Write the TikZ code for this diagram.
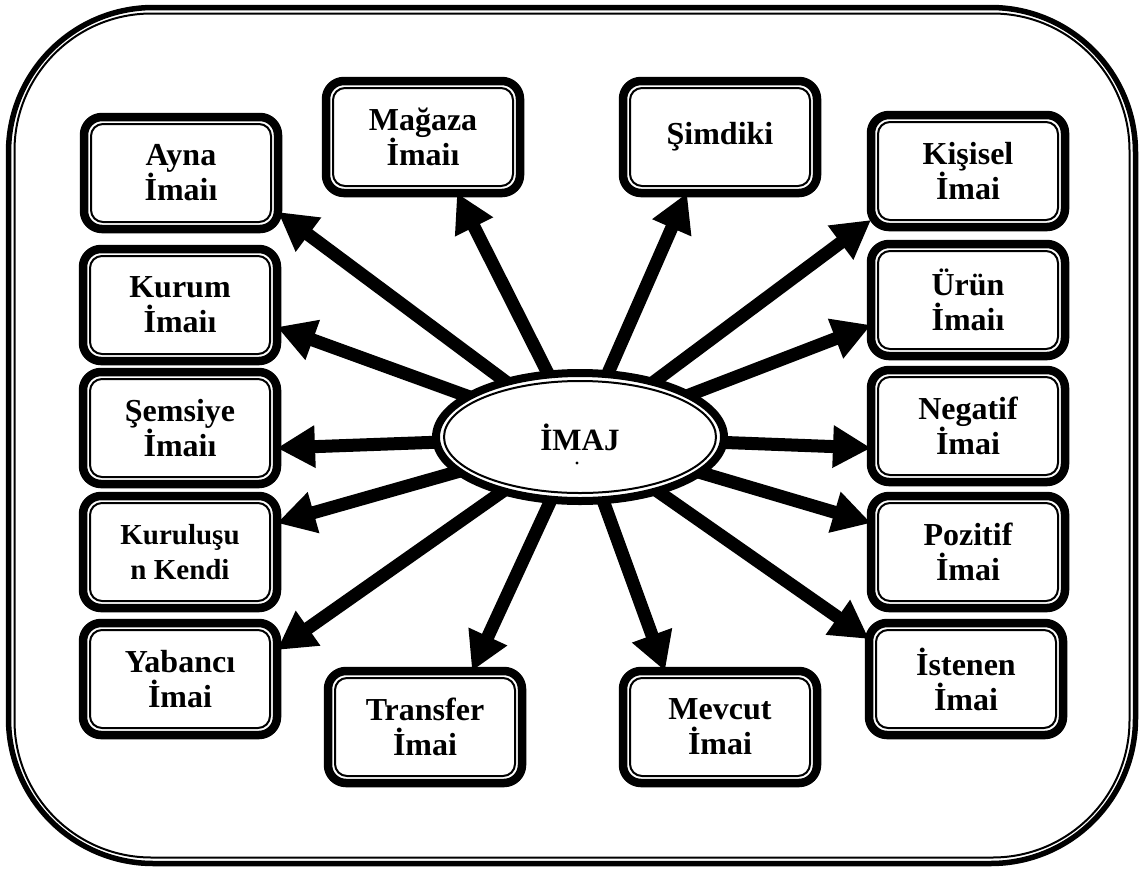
\documentclass[tikz,border=0pt]{standalone}
\usepackage{fontspec}
\setmainfont{Liberation Serif}
\usetikzlibrary{arrows.meta,backgrounds,shapes.geometric}
\newcommand\imgbox[4]{%
  \node[ibox] (#1) at (#2,#3) {#4};
  \draw[innerline] ([xshift=7pt,yshift=-7pt]#1.north west) rectangle ([xshift=-7pt,yshift=7pt]#1.south east);}
\begin{document}
\begin{tikzpicture}[x=1pt,y=-1pt,
  ibox/.style={draw, line width=8.5pt, rounded corners=18pt, fill=white,
    minimum width=194pt, minimum height=112pt, inner sep=0pt, outer sep=0pt,
    align=center, font=\bfseries\fontsize{32}{35}\selectfont},
  innerline/.style={line width=2pt, rounded corners=12pt},
  arr/.style={line width=13pt, -{Triangle[length=38pt,width=40pt]}},
  framestyle/.style={line width=5.5pt, rounded corners=145pt},
  frameinner/.style={line width=2pt, rounded corners=137pt}
]
\useasboundingbox (0,0) rectangle (1144,871);
% outer frame
\draw[framestyle] (8.5,7.5) rectangle (1135.5,863.5);
\draw[frameinner] (14.5,13.5) rectangle (1129.5,857.5);
% centre ellipse
\node[ellipse, draw, line width=8pt, fill=white, minimum width=288pt, minimum height=128pt,
  inner sep=0pt, outer sep=0pt, font=\bfseries\fontsize{31}{34}\selectfont] (e) at (580,437) {İMAJ};
\draw[line width=2pt] (e.center) ellipse [x radius=136pt, y radius=56pt];
\fill (577,463) circle (1.7pt);
% boxes
\imgbox{ayna}{181}{173}{Ayna\\İmaiı}
\imgbox{kurum}{180}{305}{Kurum\\İmaiı}
\imgbox{semsiye}{180}{428}{Şemsiye\\İmaiı}
\imgbox{kurulusu}{180}{552}{\fontsize{29}{35}\selectfont Kuruluşu\\\fontsize{29}{35}\selectfont n Kendi}
\imgbox{yabanci}{180}{679}{Yabancı\\İmai}
\imgbox{magaza}{423}{137}{Mağaza\\İmaiı}
\imgbox{simdiki}{720}{137}{Şimdiki}
\imgbox{kisisel}{968}{171}{Kişisel\\İmai}
\imgbox{urun}{968}{300}{Ürün\\İmaiı}
\imgbox{negatif}{968}{426}{Negatif\\İmai}
\imgbox{pozitif}{968}{552}{Pozitif\\İmai}
\imgbox{istenen}{966}{679}{İstenen\\İmai}
\imgbox{transfer}{425}{727}{Transfer\\İmai}
\imgbox{mevcut}{720}{727}{Mevcut\\İmai}
% connectors
\begin{pgfonlayer}{background}
\draw[arr] (e.center) -- ([yshift=-39pt]ayna.east);
\draw[arr] (e.center) -- ([yshift=-22pt]kurum.east);
\draw[arr] (e.center) -- ([yshift=-20pt]semsiye.east);
\draw[arr] (e.center) -- ([yshift=29pt]kurulusu.east);
\draw[arr] (e.center) -- ([yshift=29pt]yabanci.east);
\draw[arr] (e.center) -- ([xshift=34pt]magaza.south);
\draw[arr] (e.center) -- ([xshift=-33pt]simdiki.south);
\draw[arr] (e.center) -- ([yshift=-49pt]kisisel.west);
\draw[arr] (e.center) -- ([yshift=-25pt]urun.west);
\draw[arr] (e.center) -- ([yshift=-22pt]negatif.west);
\draw[arr] (e.center) -- ([yshift=29pt]pozitif.west);
\draw[arr] (e.center) -- ([yshift=40pt]istenen.west);
\draw[arr] (e.center) -- ([xshift=47pt]transfer.north);
\draw[arr] (e.center) -- ([xshift=-55pt]mevcut.north);
\end{pgfonlayer}
\end{tikzpicture}
\end{document}
